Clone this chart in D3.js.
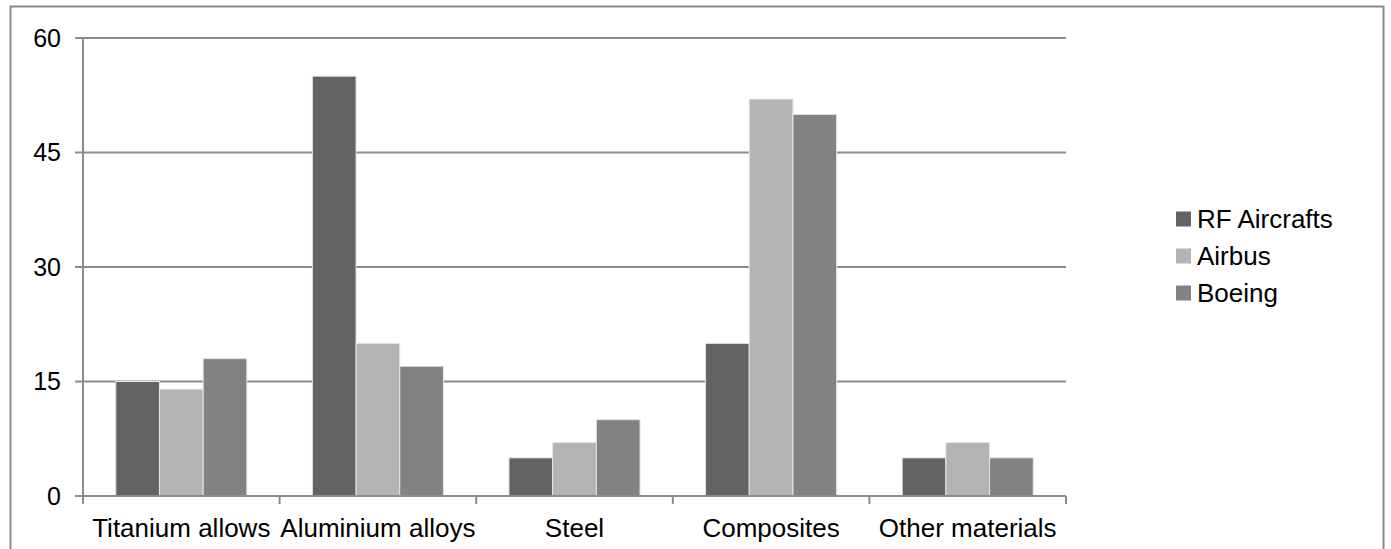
<!DOCTYPE html>
<html>
<head>
<meta charset="utf-8">
<script src="https://cdn.jsdelivr.net/npm/d3@7"></script>
<style>
  body { margin: 0; background: #fff; }
  svg { display: block; font-family: "Liberation Sans", Arial, sans-serif; }
</style>
</head>
<body>
<svg width="1391" height="549"></svg>
<script>
var categories = ['Titanium allows', 'Aluminium alloys', 'Steel', 'Composites', 'Other materials']
var seriesNames = ['RF Aircrafts', 'Airbus', 'Boeing']
var rfAircrafts = [15, 55, 5, 20, 5]
var airbus = [14, 20, 7, 52, 7]
var boeing = [18, 17, 10, 50, 5]
var yTicks = [0, 15, 30, 45, 60]
var colors = ['#636363', '#b3b3b3', '#828282']

var values = [rfAircrafts, airbus, boeing]
var svg = d3.select('svg')
var plot = { left: 83, right: 1066, top: 38, bottom: 496 } // window.top is taken
var grey = '#8c8c8c'

// outer frame (bottom edge runs off the picture)
svg.append('path')
    .attr('d', 'M10.5,549 V6.5 H1383.5 V549')
    .attr('fill', 'none')
    .attr('stroke', grey)
    .attr('stroke-width', 2)

var x0 = d3.scaleBand().domain(categories).range([plot.left, plot.right])
var bw = x0.bandwidth()
var x1 = d3.scaleBand().domain(seriesNames).range([bw / 6, bw * 5 / 6])
var y = d3.scaleLinear().domain([0, 60]).range([plot.bottom, plot.top])

// gridlines + y ticks
svg.append('g').selectAll('line')
    .data(yTicks)
    .enter()
    .append('line')
    .attr('x1', plot.left - 8)
    .attr('x2', plot.right)
    .attr('y1', function(d) { return y(d) })
    .attr('y2', function(d) { return y(d) })
    .attr('stroke', grey)
    .attr('stroke-width', 2)

svg.append('g').selectAll('text')
    .data(yTicks)
    .enter()
    .append('text')
    .attr('x', 61)
    .attr('y', function(d) { return y(d) })
    .attr('dy', '0.35em')
    .attr('text-anchor', 'end')
    .attr('font-size', 25)
    .attr('fill', '#000')
    .text(function(d) { return d })

// bars
var groups = svg.append('g').selectAll('g')
    .data(categories)
    .enter()
    .append('g')
    .attr('transform', function(c) { return 'translate(' + x0(c) + ',0)' })

groups.selectAll('rect')
    .data(function(c, i) {
        return seriesNames.map(function(s, k) { return { s: s, k: k, v: values[k][i] } })
    })
    .enter()
    .append('rect')
    .attr('x', function(d) { return x1(d.s) })
    .attr('y', function(d) { return y(d.v) })
    .attr('width', x1.bandwidth())
    .attr('height', function(d) { return plot.bottom - y(d.v) })
    .attr('fill', function(d) { return colors[d.k] })
    .attr('stroke', '#e6e6e6')
    .attr('stroke-width', 1)

// axis lines
svg.append('line')
    .attr('x1', plot.left).attr('x2', plot.left)
    .attr('y1', plot.top).attr('y2', plot.bottom + 8)
    .attr('stroke', grey).attr('stroke-width', 2)
svg.append('line')
    .attr('x1', plot.left).attr('x2', plot.right)
    .attr('y1', plot.bottom).attr('y2', plot.bottom)
    .attr('stroke', grey).attr('stroke-width', 2)

var bounds = categories.map(function(c) { return x0(c) }).concat([plot.right])
svg.append('g').selectAll('line')
    .data(bounds)
    .enter()
    .append('line')
    .attr('x1', function(d) { return d })
    .attr('x2', function(d) { return d })
    .attr('y1', plot.bottom)
    .attr('y2', plot.bottom + 8)
    .attr('stroke', grey)
    .attr('stroke-width', 2)

svg.append('g').selectAll('text')
    .data(categories)
    .enter()
    .append('text')
    .attr('x', function(c) { return x0(c) + bw / 2 })
    .attr('y', 537)
    .attr('text-anchor', 'middle')
    .attr('font-size', 26)
    .attr('fill', '#000')
    .text(function(c) { return c })

// legend
var legend = svg.append('g').selectAll('g')
    .data(seriesNames)
    .enter()
    .append('g')
    .attr('transform', function(s, i) { return 'translate(1176,' + (219 + i * 37) + ')' })

legend.append('rect')
    .attr('x', 0)
    .attr('y', -7.5)
    .attr('width', 15)
    .attr('height', 15)
    .attr('fill', function(s, i) { return colors[i] })

legend.append('text')
    .attr('x', 21)
    .attr('y', 9)
    .attr('font-size', 26)
    .attr('fill', '#000')
    .text(function(s) { return s })
</script>
</body>
</html>
